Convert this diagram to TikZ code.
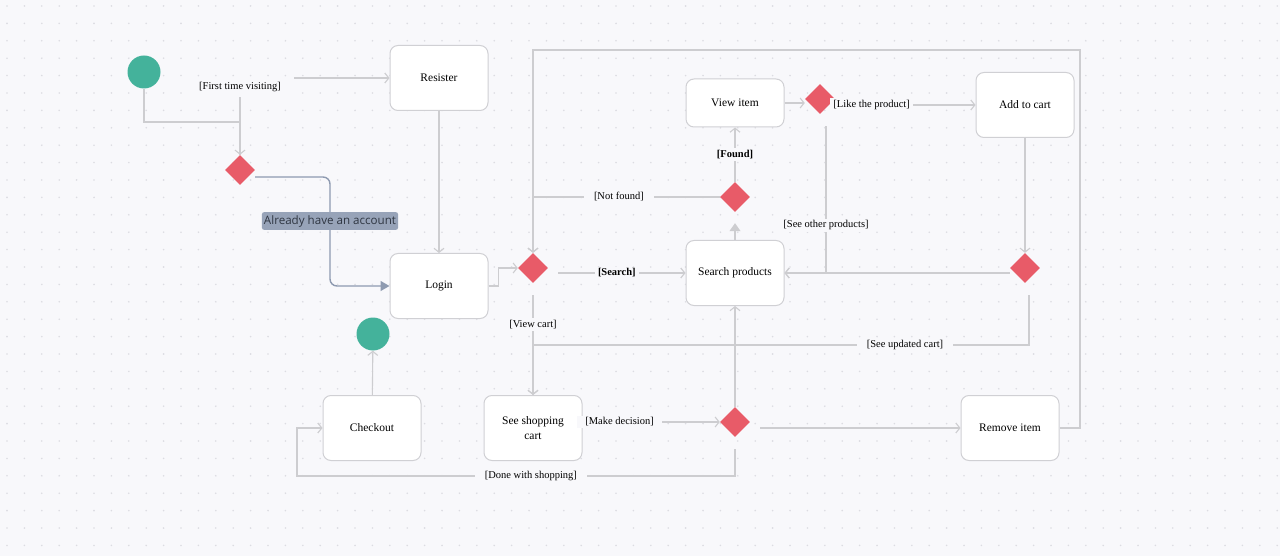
\documentclass[tikz,border=0pt]{standalone}
\usepackage{fontspec}
\setmainfont{Liberation Serif}
\newfontfamily\accountfont{Open Sans}
\usepackage{xcolor}
\usepackage{tikz}
\usetikzlibrary{arrows.meta,positioning,shapes.geometric}
\definecolor{canvas}{HTML}{F8F8FB}
\definecolor{griddot}{HTML}{DCDCE2}
\definecolor{boxline}{HTML}{D0D0D4}
\definecolor{flowline}{HTML}{CDCDD0}
\definecolor{choice}{HTML}{E85B68}
\definecolor{terminal}{HTML}{44B29B}
\definecolor{slate}{HTML}{8E9AB0}
\definecolor{slatefill}{HTML}{97A3B8}
\definecolor{slatetext}{HTML}{2F3642}

\begin{document}
\begin{tikzpicture}[
    x=1pt, y=-1pt,
    activity/.style={rectangle, rounded corners=8pt, minimum width=98pt, minimum height=65pt, text centered, align=center, draw=boxline, line width=1pt, fill=white, font=\fontsize{11.5}{15}\selectfont},
    choicebox/.style={diamond, minimum width=30pt, minimum height=30pt, inner sep=0pt, fill=choice},
    endpoint/.style={circle, minimum size=33pt, inner sep=0pt, fill=terminal},
    guard/.style={fill=canvas, inner xsep=3pt, inner ysep=2pt, font=\fontsize{10.5}{12}\selectfont},
    arrow/.style={line width=1.1pt, draw=flowline, -{Straight Barb[length=4pt,width=10pt]}},
    solidarrow/.style={line width=1.1pt, draw=flowline, -{Triangle[length=8pt,width=11pt]}},
    account/.style={line width=1.4pt, draw=slate, rounded corners=7pt, -{Triangle[length=9pt,width=10pt]}},
    accountlabel/.style={fill=slatefill, text=slatetext, rounded corners=2pt, inner xsep=2pt, inner ysep=3pt, font=\accountfont\fontsize{11.6}{13}\selectfont}
]

\fill [canvas] (0,0) rectangle (1280,556);
\useasboundingbox (0,0) rectangle (1280,556);
\foreach \i in {0,...,73}
    \foreach \j in {0,...,31}
        \fill [griddot] (7+17.4*\i, 6+17.4*\j) circle (0.9pt);

\node (start) [endpoint] at (144,72) {};
\node (resister) [activity] at (439,78) {Resister};
\node (dfirst) [choicebox] at (240,170) {};
\node (login) [activity] at (439,286) {Login};
\node (dsel) [choicebox] at (533,268) {};
\node (search) [activity] at (735,273) {Search products};
\node (dfound) [choicebox] at (735,197) {};
\node (viewitem) [activity, minimum height=48pt] at (735,103) {View item};
\node (dlike) [choicebox] at (820,99) {};
\node (addcart) [activity] at (1025,105) {Add to cart};
\node (dcart) [choicebox] at (1025,268) {};
\node (finish) [endpoint] at (373,334) {};
\node (checkout) [activity] at (372,428) {Checkout};
\node (cart) [activity] at (533,428) {See shopping\\cart};
\node (ddecide) [choicebox] at (735,422) {};
\node (remove) [activity] at (1010,428) {Remove item};

\coordinate (jstart) at (240,122);
\coordinate (jaccount) at (330,221);
\coordinate (jloop) at (1080,50);
\coordinate (jupdated) at (533,345);
\coordinate (jdone) at (297,476);

\draw [arrow] (start) |- (jstart) -- (dfirst);
\draw [arrow] (dfirst) |- node (gfirst) [guard, inner xsep=13pt, inner ysep=5pt, pos=0.44] {[First time visiting]} (resister);
\draw [account] ([yshift=-7pt]dfirst.east) -| (jaccount) |- (login);
\node (gaccount) [accountlabel] at (jaccount) {Already have an account};
\draw [arrow] (resister) -- (login);
\draw [arrow] (login.east) -- ++(10,0) |- (dsel.west);
\draw [arrow, shorten <=10pt] (dsel.east |- search.west) -- node (gsearch) [guard, font=\fontsize{10.5}{12}\selectfont\bfseries] {[Search]} (search.west);
\draw [solidarrow, shorten >=11pt] (search) -- (dfound);
\draw [arrow] (dfound) -- node (gfound) [guard, font=\fontsize{10.5}{12}\selectfont\bfseries] {[Found]} (viewitem);
\draw [arrow] (dfound) -| node (gnotfound) [guard, inner xsep=10pt, pos=0.27] {[Not found]} (dsel);
\draw [arrow] (remove) -| (jloop) -| (dsel);
\draw [arrow] (viewitem) -- (viewitem -| dlike.west);
\draw [arrow, shorten <=10pt] (dlike.east |- addcart) -- node (glike) [guard, inner xsep=3pt, pos=0.26] {[Like the product]} (addcart);
\draw [arrow, shorten <=12pt] ([xshift=6pt]dlike.south) |- node (gother) [guard, pos=0.35] {[See other products]} (search.east);
\draw [arrow] (addcart) -- (dcart);
\draw [arrow] (dcart.west |- search.east) -- (search.east);
\draw [arrow, shorten <=12pt] ([xshift=4pt]dcart.south) |- node (gupdated) [guard, inner xsep=10pt, pos=0.625] {[See updated cart]} (jupdated) -- (cart);
\draw [arrow, shorten <=12pt] (dsel) -- node (gview) [guard, pos=0.37] {[View cart]} (cart);
\draw [arrow] (cart.east |- ddecide) -- node (gdecide) [guard, inner xsep=8pt, pos=0.27] {[Make decision]} (ddecide);
\draw [arrow] (ddecide) -- (search);
\draw [arrow, shorten <=10pt] (ddecide.east |- remove) -- (remove);
\draw [arrow, shorten <=12pt] (ddecide) |- node (gdone) [guard, inner xsep=10pt, pos=0.733] {[Done with shopping]} (jdone) |- (checkout);
\draw [arrow] (checkout) -- (finish);

\end{tikzpicture}
\end{document}
